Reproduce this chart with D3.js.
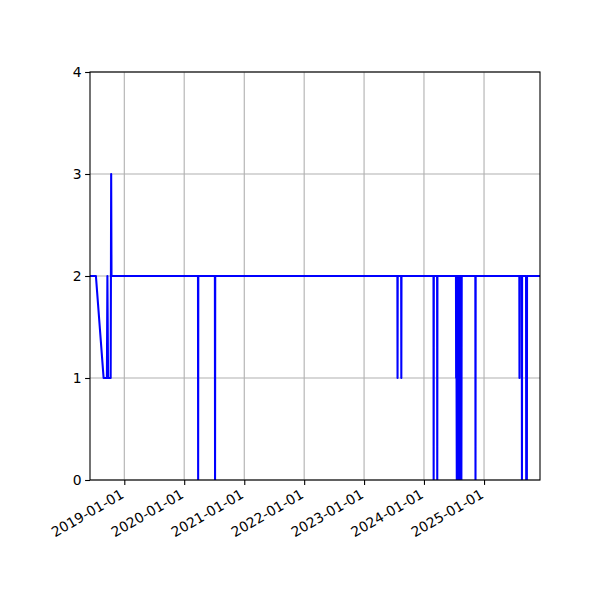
<!DOCTYPE html>
<html>
<head>
<meta charset="utf-8">
<script src="https://cdn.jsdelivr.net/npm/d3@7"></script>
<style>
  html, body { margin: 0; padding: 0; background: #fff; }
  svg { display: block; font-family: "DejaVu Sans", sans-serif; }
</style>
</head>
<body>
<svg id="chart" width="600" height="600"></svg>
<script>
// ---- data ----
const dates = [
  "2018-06-06", "2018-07-12", "2018-08-28", "2018-09-17", "2018-09-20", "2018-09-24",
  "2018-10-10", "2018-10-13", "2018-10-15",
  "2020-03-25", "2020-03-26", "2020-03-27",
  "2020-07-06", "2020-07-07", "2020-07-08",
  "2023-07-23", "2023-07-24", "2023-07-25",
  "2023-08-15", "2023-08-16", "2023-08-17",
  "2024-02-28", "2024-02-29", "2024-03-01",
  "2024-03-21", "2024-03-22", "2024-03-23",
  "2024-07-14", "2024-07-15", "2024-07-16",
  "2024-07-19", "2024-07-21", "2024-07-23", "2024-07-25", "2024-07-27", "2024-07-29",
  "2024-07-31", "2024-08-02", "2024-08-04", "2024-08-06", "2024-08-08", "2024-08-10",
  "2024-08-12", "2024-08-14", "2024-08-16", "2024-08-18",
  "2024-11-09", "2024-11-10", "2024-11-11",
  "2025-08-04", "2025-08-05", "2025-08-06",
  "2025-08-19", "2025-08-20", "2025-08-21",
  "2025-09-14", "2025-09-15", "2025-09-19", "2025-09-20",
  "2025-12-08"
];
const values = [
  2, 2, 1, 1, 2, 1,
  1, 3, 2,
  2, 0, 2,
  2, 0, 2,
  2, 1, 2,
  2, 1, 2,
  2, 0, 2,
  2, 0, 2,
  2, 1, 2,
  0, 2, 0, 2, 0, 2,
  0, 2, 0, 2, 0, 2,
  0, 2, 0, 2,
  2, 0, 2,
  2, 1, 2,
  2, 0, 2,
  2, 0, 0, 2,
  2
];
const xDomain = ["2018-06-06", "2025-12-08"];
const xTickDates = ["2019-01-01", "2020-01-01", "2021-01-01", "2022-01-01", "2023-01-01", "2024-01-01", "2025-01-01"];
const yTicks = [0, 1, 2, 3, 4];

// ---- layout ----
const mLeft = 90, mRight = 540, mTop = 72, mBottom = 480;
const svg = d3.select("#chart");
const parse = d3.utcParse("%Y-%m-%d");
const fmt = d3.utcFormat("%Y-%m-%d");

const x = d3.scaleUtc().domain(xDomain.map(parse)).range([mLeft, mRight]);
const y = d3.scaleLinear().domain([0, 4]).range([mBottom, mTop]);

const data = dates.map((d, i) => ({ date: parse(d), value: values[i] }));
const xTicks = xTickDates.map(parse);

svg.append("defs").append("clipPath").attr("id", "clip")
  .append("rect").attr("x", mLeft).attr("y", mTop)
  .attr("width", mRight - mLeft).attr("height", mBottom - mTop);

// grid
const grid = svg.append("g");
grid.selectAll("line.vx").data(xTicks).enter().append("line")
  .attr("x1", d => x(d)).attr("x2", d => x(d))
  .attr("y1", mTop).attr("y2", mBottom)
  .attr("stroke", "#b0b0b0").attr("stroke-width", 1.1);
grid.selectAll("line.hy").data(yTicks).enter().append("line")
  .attr("x1", mLeft).attr("x2", mRight)
  .attr("y1", d => y(d)).attr("y2", d => y(d))
  .attr("stroke", "#b0b0b0").attr("stroke-width", 1.1);

// line
const line = d3.line().x(d => x(d.date)).y(d => y(d.value));
svg.append("path").datum(data)
  .attr("clip-path", "url(#clip)")
  .attr("d", line)
  .attr("fill", "none")
  .attr("stroke", "#0000ff")
  .attr("stroke-width", 2.08)
  .attr("stroke-linejoin", "round")
  .attr("stroke-linecap", "butt");

// axes
const xAxis = d3.axisBottom(x).tickValues(xTicks).tickFormat(fmt).tickSize(4.9).tickPadding(3.5);
const gx = svg.append("g").attr("transform", `translate(0,${mBottom})`).call(xAxis);
gx.select(".domain").remove();
gx.selectAll(".tick line").attr("stroke", "#000").attr("stroke-width", 1.1);
gx.selectAll(".tick text")
  .attr("font-size", 13.9)
  .attr("font-family", "DejaVu Sans, sans-serif")
  .attr("fill", "#000")
  .attr("text-anchor", "end")
  .attr("y", 0).attr("dy", "0.72em")
  .attr("transform", "translate(-5,8.5) rotate(-30)");

const yAxis = d3.axisLeft(y).tickValues(yTicks).tickFormat(d3.format("d")).tickSize(4.9).tickPadding(3.5);
const gy = svg.append("g").attr("transform", `translate(${mLeft},0)`).call(yAxis);
gy.select(".domain").remove();
gy.selectAll(".tick line").attr("stroke", "#000").attr("stroke-width", 1.1);
gy.selectAll(".tick text")
  .attr("font-size", 13.9)
  .attr("font-family", "DejaVu Sans, sans-serif")
  .attr("fill", "#000");

// spines
svg.append("rect")
  .attr("x", mLeft).attr("y", mTop)
  .attr("width", mRight - mLeft).attr("height", mBottom - mTop)
  .attr("fill", "none").attr("stroke", "#000").attr("stroke-width", 1.1);
</script>
</body>
</html>
